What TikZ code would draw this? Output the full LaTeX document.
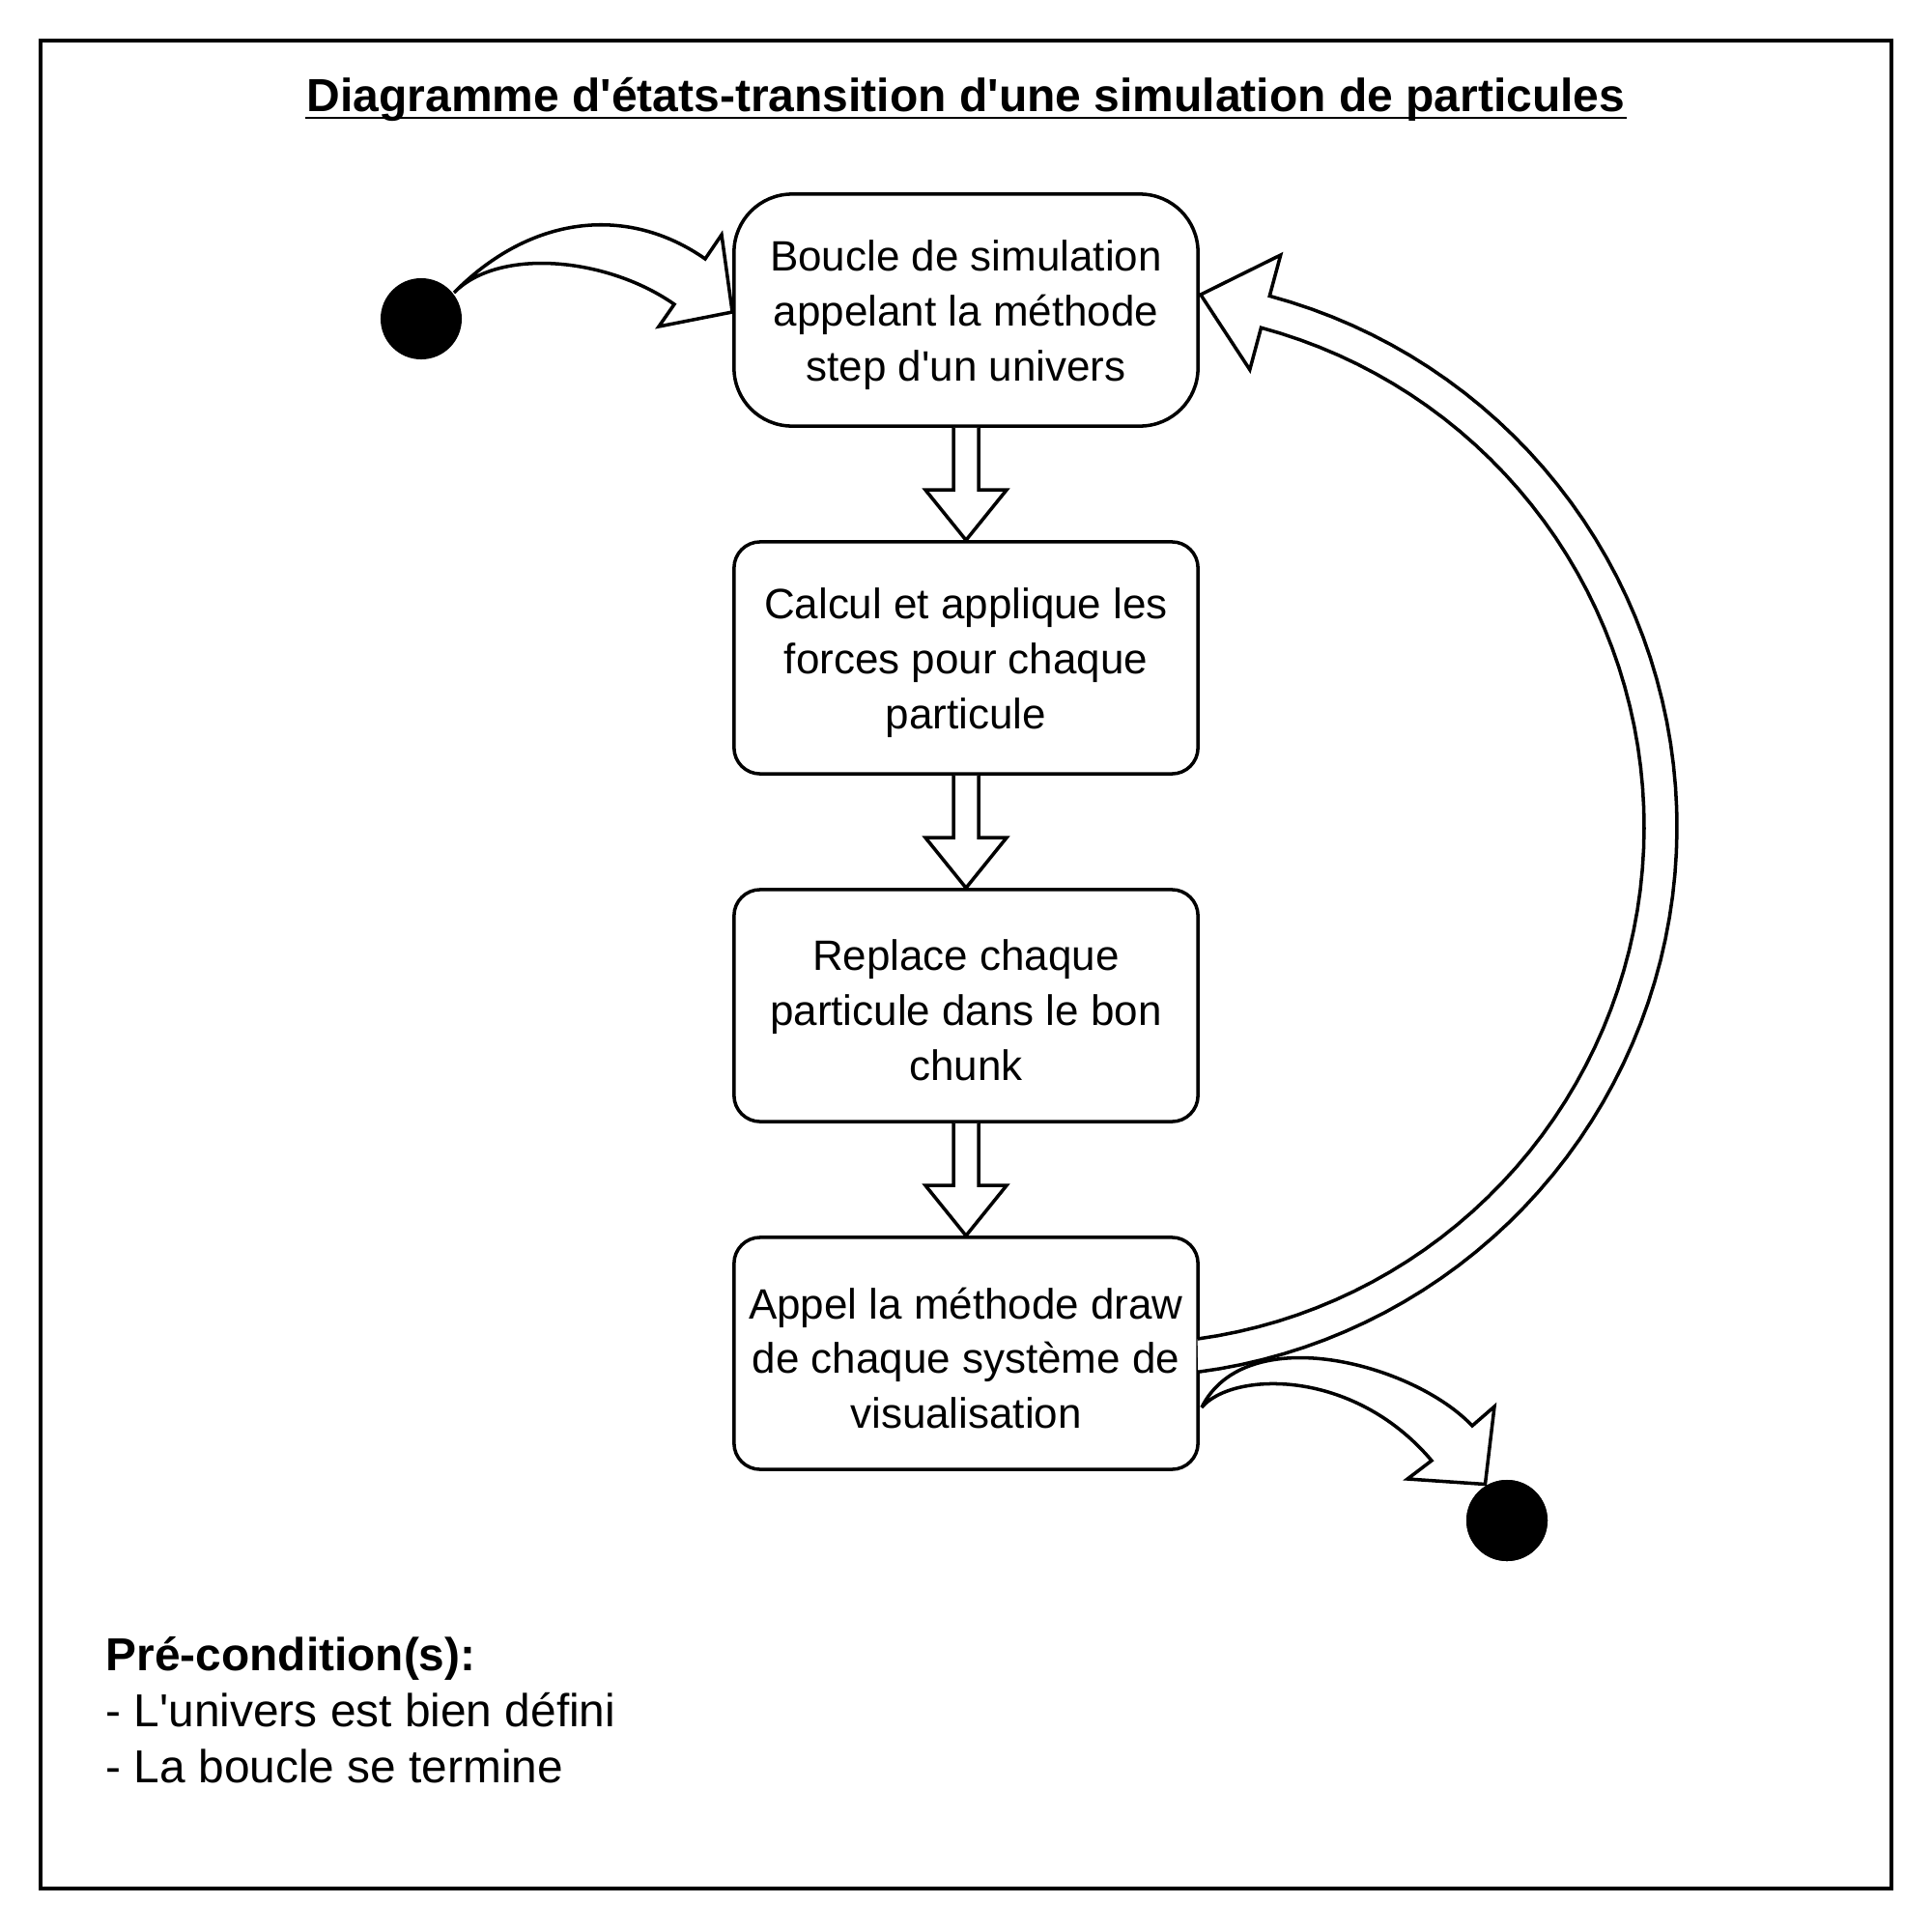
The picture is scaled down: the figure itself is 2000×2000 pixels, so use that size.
\documentclass[tikz,border=0pt]{standalone}
\usepackage{fontspec}
\setmainfont{Liberation Sans}
\usetikzlibrary{calc}
\newcommand\boxfont{\fontsize{12.5}{16.2}\selectfont}
\newcommand\titfont{\fontsize{13.65}{16}\selectfont\bfseries}
\newcommand\pcfont{\fontsize{13.6}{16.5}\selectfont}
\begin{document}
\begin{tikzpicture}[x=0.01cm,y=-0.01cm,line width=1pt,
  state/.style={draw, minimum width=4.8cm, minimum height=2.4cm, align=center,
    inner sep=0pt, font=\boxfont, rounded corners=0.27cm},
  lbl/.style={align=center, inner sep=0pt, font=\boxfont},
  dot/.style={circle, fill=black, minimum size=0.84cm, inner sep=0pt},
  fat/.style={draw, fill=white, line join=miter},
  txt/.style={anchor=base west, inner sep=0pt, font=\pcfont}]
\useasboundingbox (0,0) rectangle (2000,2000);
\draw (42,42) rectangle (1958,1955);

\node[font=\titfont, anchor=base, inner sep=0pt] (title) at (1000,116)
  {Diagramme d\textquotesingle états-transition d\textquotesingle une simulation de particules};
\draw[line width=0.85pt] ($(title.base west)+(0,6)$) -- ($(title.base east)+(0,6)$);

\node[state, rounded corners=0.6cm] (b1) at (1000,321) {};
\node[state] (b2) at (1000,681) {};
\node[state] (b3) at (1000,1041) {};
\node[state] (b4) at (1000,1401) {};
\node[lbl] (t1) at ($(b1.center)+(0,5)$) {Boucle de simulation\\appelant la méthode\\step d\textquotesingle un univers};
\node[lbl] (t2) at ($(b2.center)+(0,5)$) {Calcul et applique les\\forces pour chaque\\particule};
\node[lbl] (t3) at ($(b3.center)+(0,5)$) {Replace chaque\\particule dans le bon\\chunk};
\node[lbl] (t4) at ($(b4.center)+(0,5)$) {Appel la méthode draw\\de chaque système de\\visualisation};

% down arrows
\foreach \a/\b in {b1/b2,b2/b3,b3/b4}{
  \draw[fat] ($(\a.south)+(-13,0)$) -- ($(\b.north)+(-13,-52)$) -- ($(\b.north)+(-42,-52)$)
    -- (\b.north) -- ($(\b.north)+(42,-52)$) -- ($(\b.north)+(13,-52)$) -- ($(\a.south)+(13,0)$);
}

% start arrow
\coordinate (st) at (470,303);
\draw[fat] (st) .. controls (550,222) and (650,212) .. (730,268) -- (747,243)
  -- ($(b1.west)+(0,2)$) -- (682,338) -- (698,315) .. controls (628,266) and (516,256) .. (st) -- cycle;

% loop arrow
\draw[fat] plot[domain=82.2:-75, samples=70] ({1167+535*cos(\x)},{856+535*sin(\x)})
  -- (1293.8,382.7) -- ($(b1.east)+(1,-16)$) -- (1325.7,264)
  -- plot[domain=-75:82.6, samples=70] ({1167+569*cos(\x)},{856+569*sin(\x)});

% end arrow
\coordinate (et) at ($(b4.east)+(2,56)$);
\node[dot] (e) at (1560,1574) {};
\draw[fat] (et) .. controls (1290,1365) and (1464,1412) .. (1524,1476) -- (1547,1456)
  -- (e.121) -- (1457,1531) -- (1482,1512) .. controls (1400,1415) and (1275,1420) .. (et);

\node[dot] (s) at (436,330) {};
\node[dot] at (e) {};

\node[txt] (pc1) at (108,1729) {\bfseries Pré-condition(s):};
\node[txt] (pc2) at (108,1787) {- L\textquotesingle univers est bien défini};
\node[txt] (pc3) at (108,1845) {- La boucle se termine};
\end{tikzpicture}
\end{document}
